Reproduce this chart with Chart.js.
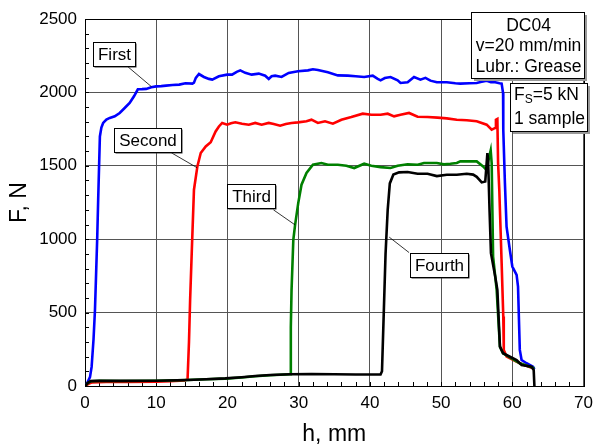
<!DOCTYPE html>
<html><head><meta charset="utf-8">
<script src="https://cdn.jsdelivr.net/npm/chart.js@4"></script>
<style>html,body{margin:0;padding:0;background:#fff}</style>
</head><body>
<canvas id="c" width="600" height="446"></canvas>
<script>
// ---------- data (h in mm, F in N) ----------
const firstX = [0,0.3,0.7,0.93,1.2,1.4,1.55,1.71,1.85,2.09,2.3,2.55,3.0,3.48,4.18,4.87,5.5,6.27,6.9,7.42,8.0,8.59,9.3,9.99,10.7,11.38,12.3,13.23,14.1,15.08,15.3,15.56,16.0,16.7,17.4,17.87,18.8,19.96,20.65,21.3,21.8,22.5,23.4,24.4,25.3,25.8,26.2,26.7,27.6,28.6,29.9,31.3,32.0,32.7,34.1,35.5,36.9,38.0,39.2,40.4,41.1,41.5,42.1,42.9,43.9,44.3,45.3,46.2,47.1,47.8,48.5,49.4,50.8,52.0,52.7,54.0,55.0,55.7,56.4,57.0,57.6,58.2,58.5,58.7,58.73,58.96,59.19,59.65,60.0,60.6,60.8,61.05,61.3,62.0,62.9,63.1];
const firstY = [0,20,60,130,320,518,750,1000,1268,1700,1760,1792,1815,1826,1837,1860,1890,1928,1975,2021,2022,2024,2035,2041,2043,2046,2050,2053,2062,2060,2066,2099,2125,2105,2092,2087,2110,2121,2121,2140,2150,2133,2121,2128,2114,2092,2110,2114,2105,2133,2144,2150,2158,2152,2137,2116,2114,2110,2105,2114,2092,2082,2098,2105,2082,2064,2069,2105,2087,2099,2080,2069,2069,2062,2060,2062,2064,2072,2080,2070,2069,2062,2060,1996,1746,1382,1086,928,814,757,677,246,177,155,132,115];

const secondX = [0,0.5,1.0,3,6,10,12,14.0,14.4,14.6,14.76,15.0,15.3,15.78,16.25,16.95,17.65,18.34,18.8,19.26,19.96,20.5,21.1,22.05,23.0,23.9,24.8,25.8,26.5,27.4,28.2,29.0,29.9,31.1,31.8,32.7,33.7,34.8,36.0,37.4,39.0,40.2,41.5,42.5,43.4,44.3,45.5,46.7,48.1,49.5,50.8,52.2,53.6,55.0,56.4,57.1,57.6,57.7,57.9,58.0,58.17,58.5,58.73,58.8,59.2,61.05,62.9];
const secondY = [0,15,25,27,28,30,33,38,45,300,586,927,1337,1496,1587,1632,1660,1734,1768,1792,1780,1790,1796,1787,1780,1792,1780,1792,1785,1773,1785,1792,1796,1803,1814,1792,1803,1787,1814,1832,1855,1848,1848,1855,1837,1848,1860,1834,1832,1828,1823,1814,1810,1803,1780,1746,1758,1814,1819,1519,1337,837,473,246,200,155,121];

const thirdX = [0,0.4,0.8,2,5,10,14.4,17,19.7,22,23.9,26,28.8,28.9,29.0,29.25,29.5,29.94,30.4,31.1,32.0,33.2,34.1,35.5,36.7,37.8,39.2,40.2,41.5,42.9,43.9,45.3,46.7,47.6,49.4,50.4,51.3,52.2,52.7,53.6,55.0,55.9,56.4,56.6,56.96,57.1,57.3,57.8,58.26,58.7,61.05,63.1];
const thirdY = [0,20,32,35,34,36,41,46,50,58,66,73,80,400,650,996,1098,1246,1371,1451,1507,1519,1507,1507,1500,1485,1514,1500,1491,1485,1500,1510,1507,1519,1519,1510,1514,1519,1530,1530,1530,1496,1470,1530,1605,1519,882,655,268,223,155,121];

const fourthX = [0,0.4,0.8,2,5,10,14.4,17,19.7,22,23.9,26,28.8,31.8,35,38,41.5,41.7,41.95,42.2,42.5,42.8,43.3,44.1,45.3,46.7,48.1,49.4,50.8,52.2,53.6,54.5,55.0,55.7,56.2,56.5,56.6,56.8,57.0,57.6,57.9,58.26,58.7,60.6,61.3,62.7,63.0,63.1];
const fourthY = [0,22,33,36,35,36,41,46,52,60,68,75,80,82,80,78,78,100,500,900,1200,1380,1440,1455,1458,1446,1446,1430,1439,1439,1446,1440,1425,1387,1393,1587,1541,1200,905,745,655,268,223,177,143,132,109,0];

const seriesNames = ['First','Second','Third','Fourth'];
const xTickStep = 10, xMinorStep = 2;
const yTickStep = 500, yMinorStep = 100;

// label callouts (anchors in data units)
const calloutText = ['First','Second','Third','Fourth'];
const calloutCenter = [[4.04,2264],[8.84,1678],[23.26,1296],[49.65,822]];
const calloutLeader = [[[5.99,2176],[9.33,2039]],[[12.12,1589],[15.74,1487]],[[26.46,1200],[29.48,1098]],[[45.5,909],[42.72,1014]]];
const infoLines1 = ['DC04','v=20 mm/min','Lubr.: Grease'];
const infoLines2 = ['1 sample'];

// ---------- chart ----------
const FONT = "'Liberation Sans', Arial, sans-serif";
const pts = (xs, ys) => xs.map((v,i)=>({x:v, y:ys[i]}));

const deco = {
  id:'deco',
  beforeDatasetsDraw(chart){
    const {ctx, chartArea:a, scales:{x,y}} = chart;
    ctx.save();
    ctx.strokeStyle='#000'; ctx.lineWidth=1;
    ctx.beginPath();
    for (let v=x.min; v<=x.max+1e-9; v+=xMinorStep){
      const px=Math.round(x.getPixelForValue(v))+0.5;
      ctx.moveTo(px,a.bottom); ctx.lineTo(px,a.bottom-4);
    }
    for (let v=y.min; v<=y.max+1e-9; v+=yMinorStep){
      const py=Math.round(y.getPixelForValue(v))+0.5;
      ctx.moveTo(a.left,py); ctx.lineTo(a.left+4,py);
    }
    ctx.stroke();
    ctx.strokeRect(Math.round(a.left)+0.5, Math.round(a.top)+0.5, Math.round(a.right-a.left), Math.round(a.bottom-a.top));
    ctx.restore();
  },
  afterDatasetsDraw(chart){
    const {ctx, scales:{x,y}} = chart;
    ctx.save();
    ctx.font = '17px '+FONT;
    ctx.textBaseline='middle';
    ctx.strokeStyle='#000'; ctx.lineWidth=0.8;
    calloutLeader.forEach(([p,q])=>{
      ctx.beginPath();
      ctx.moveTo(x.getPixelForValue(p[0]), y.getPixelForValue(p[1]));
      ctx.lineTo(x.getPixelForValue(q[0]), y.getPixelForValue(q[1]));
      ctx.stroke();
    });
    calloutText.forEach((t,i)=>{
      const cx = x.getPixelForValue(calloutCenter[i][0]);
      const cy = y.getPixelForValue(calloutCenter[i][1]);
      const w = Math.round(ctx.measureText(t).width + 9), h = 24;
      const l = Math.round(cx - w/2), tp = Math.round(cy - h/2);
      ctx.fillStyle='#333'; ctx.fillRect(l+1.5, tp+1.5, w, h);
      ctx.fillStyle='#fff'; ctx.fillRect(l, tp, w, h);
      ctx.lineWidth=1; ctx.strokeStyle='#000'; ctx.strokeRect(l+0.5, tp+0.5, w, h);
      ctx.fillStyle='#000'; ctx.textAlign='center';
      ctx.fillText(t, l + w/2 + 0.5, tp + h/2 + 1);
    });
    const b1l = Math.round(x.getPixelForValue(54.18)), b1r = Math.round(x.getPixelForValue(70.06));
    const b1t = Math.round(y.getPixelForValue(2551)), b1b = Math.round(y.getPixelForValue(2101));
    ctx.fillStyle='#999'; ctx.fillRect(b1l+3, b1t+3, b1r-b1l, b1b-b1t);
    ctx.fillStyle='#fff'; ctx.fillRect(b1l, b1t, b1r-b1l, b1b-b1t);
    ctx.strokeStyle='#000'; ctx.lineWidth=1; ctx.strokeRect(b1l+0.5, b1t+0.5, b1r-b1l, b1b-b1t);
    ctx.fillStyle='#000'; ctx.textAlign='center'; ctx.font='17.5px '+FONT;
    infoLines1.forEach((t,i)=> ctx.fillText(t, (b1l+b1r)/2+1, b1t + 14 + i*20.5));
    const b2l = Math.round(x.getPixelForValue(59.62)), b2r = Math.round(x.getPixelForValue(70.47));
    const b2t = Math.round(y.getPixelForValue(2066)), b2b = Math.round(y.getPixelForValue(1739));
    ctx.fillStyle='#999'; ctx.fillRect(b2l+3, b2t+3, b2r-b2l, b2b-b2t);
    ctx.fillStyle='#fff'; ctx.fillRect(b2l, b2t, b2r-b2l, b2b-b2t);
    ctx.strokeStyle='#000'; ctx.strokeRect(b2l+0.5, b2t+0.5, b2r-b2l, b2b-b2t);
    ctx.fillStyle='#000'; ctx.textAlign='left';
    let tx = b2l + 4, ty = b2t + 12;
    ctx.font='17.5px '+FONT; ctx.fillText('F', tx, ty); tx += ctx.measureText('F').width;
    ctx.font='12px '+FONT; ctx.fillText('S', tx, ty+5); tx += ctx.measureText('S').width;
    ctx.font='17.5px '+FONT; ctx.fillText('=5 kN', tx, ty);
    infoLines2.forEach((t,i)=> ctx.fillText(t, b2l + 4, b2t + 36 + i*20.5));
    ctx.restore();
  }
};

new Chart(document.getElementById('c'), {
  type:'line',
  data:{ datasets:[
    {label:seriesNames[3], data:pts(fourthX,fourthY), borderColor:'#000000'},
    {label:seriesNames[2], data:pts(thirdX,thirdY), borderColor:'#008000'},
    {label:seriesNames[1], data:pts(secondX,secondY), borderColor:'#ff0000'},
    {label:seriesNames[0], data:pts(firstX,firstY), borderColor:'#0000ff'}
  ]},
  options:{
    responsive:false, animation:false,
    parsing:false,
    elements:{ line:{borderWidth:2.6, tension:0, fill:false}, point:{radius:0} },
    layout:{ padding:{top:19, right:12, left:0, bottom:0} },
    plugins:{ legend:{display:false}, tooltip:{enabled:false} },
    scales:{
      x:{ type:'linear', min:0, max:70,
        afterFit(s){ s.height = 60; },
        grid:{ color:'#555', lineWidth:1, drawTicks:false },
        border:{ display:true, color:'#000', width:1 },
        ticks:{ stepSize:xTickStep, padding:7, color:'#000', font:{family:FONT, size:17}, callback:(v)=>String(v) },
        title:{ display:true, text:'h, mm', color:'#000', font:{family:FONT, size:23}, padding:{top:0, bottom:-2} }
      },
      y:{ type:'linear', min:0, max:2500,
        afterFit(s){ s.width = 85; },
        grid:{ color:'#555', lineWidth:1, drawTicks:false },
        border:{ display:true, color:'#000', width:1 },
        ticks:{ stepSize:yTickStep, padding:8, color:'#000', font:{family:FONT, size:17}, callback:(v)=>String(v) },
        title:{ display:true, text:'F, N', color:'#000', font:{family:FONT, size:23}, padding:{top:6, bottom:0} }
      }
    }
  },
  plugins:[deco]
});
</script>
</body></html>
